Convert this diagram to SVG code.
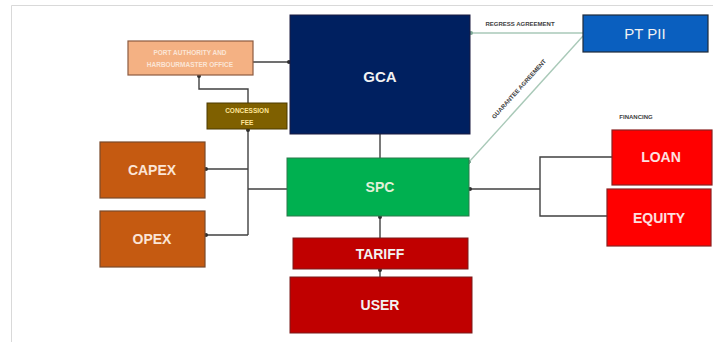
<svg xmlns="http://www.w3.org/2000/svg" width="713" height="342" viewBox="0 0 713 342">
<style>
text{font-family:"Liberation Sans",Arial,sans-serif;text-anchor:middle;dominant-baseline:central;font-weight:bold}
.big{font-size:14px;fill:#f2f2f2}
.sm{font-size:6.5px;fill:#fbe5d6}
.lbl{font-size:6px;fill:#404040}
.con{fill:none;stroke:#404040;stroke-width:1.4}
.ag{fill:none;stroke:#a9c9b8;stroke-width:1.4}
</style>
<defs>
<marker id="dot" viewBox="0 0 6 6" refX="3" refY="3" markerWidth="4" markerHeight="4" markerUnits="userSpaceOnUse" orient="auto"><circle cx="3" cy="3" r="3" fill="#303030"/></marker>
<marker id="dotg" viewBox="0 0 6 6" refX="3" refY="3" markerWidth="4" markerHeight="4" markerUnits="userSpaceOnUse" orient="auto"><circle cx="3" cy="3" r="3" fill="#7fa896"/></marker>
</defs>
<rect width="713" height="342" fill="#ffffff"/>
<path d="M11.5 342 V5.5 H713" fill="none" stroke="#d9d9d9" stroke-width="1"/>
<g id="connectors">
<path class="con" d="M253 62 H289" marker-end="url(#dot)"/>
<path class="con" d="M248 103 V89 H199 V76" marker-end="url(#dot)"/>
<path class="con" d="M248 235 V130" marker-end="url(#dot)"/>
<path class="con" d="M248 169 H206" marker-end="url(#dot)"/>
<path class="con" d="M248 235 H206" marker-end="url(#dot)"/>
<path class="con" d="M287 189 H248"/>
<path class="con" d="M380 134 V158"/>
<path class="con" d="M380 238 V217" marker-end="url(#dot)"/>
<path class="con" d="M380 277 V270" marker-end="url(#dot)"/>
<path class="con" d="M612 157 H540 V216 H607"/>
<path class="con" d="M540 189 H470" marker-end="url(#dot)"/>
<path class="ag" d="M583 33 H471" marker-end="url(#dotg)"/>
<path class="ag" d="M583 36 L469 162" marker-end="url(#dotg)"/>
<text class="lbl" x="520" y="24">REGRESS AGREEMENT</text>
<text class="lbl" transform="translate(519 89) rotate(-48)">GUARANTEE AGREEMENT</text>
<text class="lbl" x="636" y="117">FINANCING</text>
</g>
<g id="gca"><rect x="290" y="15" width="180" height="119" fill="#002060" stroke="#1a1a40" stroke-width="1"/><text class="big" x="380" y="76" style="font-size:15px">GCA</text></g>
<g id="ptpii"><rect x="583" y="15" width="125" height="37" fill="#0a5fbf" stroke="#1f2a3a" stroke-width="1.2"/><text class="big" x="645" y="33" style="font-weight:normal;font-size:15px">PT PII</text></g>
<g id="port"><rect x="128" y="41" width="125" height="34" fill="#f4b183" stroke="#8c5a40" stroke-width="1.2"/><text class="sm" x="190" y="52">PORT AUTHORITY AND</text><text class="sm" x="190" y="64">HARBOURMASTER OFFICE</text></g>
<g id="fee"><rect x="207" y="103" width="80" height="26" fill="#7f6000" stroke="#4d3a00" stroke-width="1"/><text class="sm" x="247" y="110" style="fill:#ffe699">CONCESSION</text><text class="sm" x="247" y="122" style="fill:#ffe699">FEE</text></g>
<g id="capex"><rect x="100" y="142" width="105" height="56" fill="#c55a11" stroke="#7a4a2a" stroke-width="1.2"/><text class="big" x="152" y="170" style="fill:#fbe5d6">CAPEX</text></g>
<g id="opex"><rect x="100" y="211" width="105" height="56" fill="#c55a11" stroke="#7a4a2a" stroke-width="1.2"/><text class="big" x="152" y="239" style="fill:#fbe5d6">OPEX</text></g>
<g id="spc"><rect x="287" y="158" width="182" height="58" fill="#00b050" stroke="#2a7a4a" stroke-width="1"/><text class="big" x="380" y="187" style="fill:#e2f0d9">SPC</text></g>
<g id="tariff"><rect x="293" y="238" width="175" height="31" fill="#c00000" stroke="#7a1a1a" stroke-width="1"/><text class="big" x="380" y="254">TARIFF</text></g>
<g id="user"><rect x="290" y="277" width="182" height="56" fill="#c00000" stroke="#7a1a1a" stroke-width="1"/><text class="big" x="380" y="305">USER</text></g>
<g id="loan"><rect x="612" y="130" width="100" height="55" fill="#ff0000" stroke="#8a2020" stroke-width="1.2"/><text class="big" x="661" y="157" style="fill:#fde0e0">LOAN</text></g>
<g id="equity"><rect x="607" y="189" width="104" height="57" fill="#ff0000" stroke="#8a2020" stroke-width="1.2"/><text class="big" x="659" y="218" style="fill:#fde0e0">EQUITY</text></g>
</svg>
